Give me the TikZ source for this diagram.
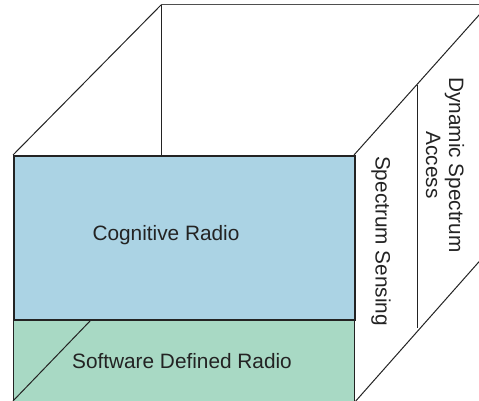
\documentclass[tikz,border=0pt]{standalone}
\usepackage{fontspec}
\setmainfont{Liberation Sans}
\definecolor{crblue}{RGB}{171,211,228}
\definecolor{sdrgreen}{RGB}{168,217,196}
\definecolor{ink}{RGB}{35,35,35}
\begin{document}
\begin{tikzpicture}[x=1pt,y=1pt,
  edge/.style={draw=ink,line width=1pt},
  front/.style={draw=ink,line width=1.6pt},
  lbl/.style={text=ink,font=\fontsize{20.8}{23}\selectfont,align=center,inner sep=0pt}]
\useasboundingbox (0,0) rectangle (479,401);
\clip (0,0) rectangle (479,401);
% coordinates
\coordinate (A) at (13,246);
\coordinate (B) at (354,246);
\coordinate (P) at (161,396);
\coordinate (Ph) at (161,246);
\coordinate (Q) at (488,396);
\coordinate (Qr) at (520,396);
\coordinate (Bl) at (354,-2);
\coordinate (Lr) at (500,163);
\coordinate (M1) at (417,316);
\coordinate (M2) at (417,73);
% back edges
\draw[edge] (A) -- (P);
\draw[edge] (P) -- (Ph);
\draw[edge,draw=ink!80] (P) -- (Qr);
\draw[edge] (B) -- (Q);
\draw[edge] (Bl) -- (Lr);
\draw[edge] (M1) -- (M2);
% front faces
\node[front,fill=crblue,minimum width=341pt,minimum height=164pt,inner sep=0pt,anchor=north west] (cr) at (13,246) {};
\node[front,fill=sdrgreen,minimum width=341pt,minimum height=90pt,inner sep=0pt,anchor=north west] (sdr) at (12.5,82) {};
\coordinate (g1) at (13,0);
\coordinate (g2) at (91,81);
\draw[edge] (g1) -- (g2);
% labels
\node[lbl] (crl) at (166,166) {Cognitive Radio};
\node[lbl] (sdrl) at (182,40) {Software Defined Radio};
\node[lbl,rotate=-90] (ss) at (381,160) {Spectrum Sensing};
\node[lbl,rotate=-90] (dsa) at (445,236) {Dynamic Spectrum\\Access};
\end{tikzpicture}
\end{document}
